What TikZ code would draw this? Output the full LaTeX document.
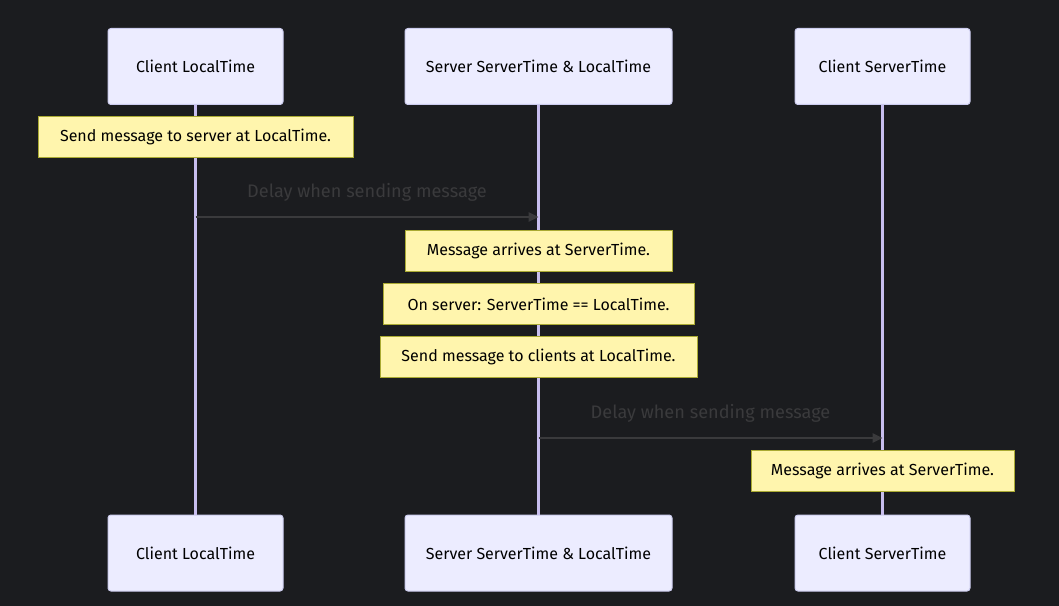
\documentclass[tikz,border=0pt]{standalone}
\usepackage{fontspec}
\setmainfont{Fira Sans}
\usetikzlibrary{arrows.meta}
\definecolor{bgc}{RGB}{27,28,31}
\definecolor{actfill}{RGB}{236,236,255}
\definecolor{actline}{RGB}{204,204,238}
\definecolor{lifec}{RGB}{200,190,238}
\definecolor{notefill}{RGB}{255,245,173}
\definecolor{noteline}{RGB}{170,170,51}
\definecolor{msgc}{RGB}{58,58,60}
\tikzset{
  actor/.style={rectangle,rounded corners=2.2pt,draw=actline,fill=actfill,line width=.75pt,
    minimum height=76*0.75pt,inner sep=0pt,font=\fontsize{12}{14}\selectfont,text=black},
  note/.style={rectangle,draw=noteline,fill=notefill,line width=.75pt,
    minimum height=41*0.75pt,inner sep=0pt,font=\fontsize{12}{14}\selectfont,text=black},
  life/.style={draw=lifec,line width=1.7pt},
  msg/.style={-{Triangle[length=7.5pt,width=7pt]},draw=msgc,line width=1.4pt},
  mlb/.style={font=\fontsize{13.6}{15}\selectfont,text=msgc,anchor=south,inner sep=0pt},
}
\begin{document}
\begin{tikzpicture}[x=0.75pt,y=-0.75pt]
\fill[bgc] (0,0) rectangle (1059,606);
\useasboundingbox (0,0) rectangle (1059,606);
% participants, top and bottom
\node[actor,minimum width=175*0.75pt] (clt) at (195.5,66.5) {Client LocalTime};
\node[actor,minimum width=267*0.75pt] (srv) at (538.5,66.5) {Server ServerTime \& LocalTime};
\node[actor,minimum width=175*0.75pt] (cst) at (882.5,66.5) {Client ServerTime};
\node[actor,minimum width=175*0.75pt] (cltb) at (195.5,553) {Client LocalTime};
\node[actor,minimum width=267*0.75pt] (srvb) at (538.5,553) {Server ServerTime \& LocalTime};
\node[actor,minimum width=175*0.75pt] (cstb) at (882.5,553) {Client ServerTime};
% lifelines
\draw[life] (clt.south) -- (cltb.north);
\draw[life] (srv.south) -- (srvb.north);
\draw[life] (cst.south) -- (cstb.north);
% first hop: client to server
\node[note,minimum width=315*0.75pt] (n1) at (195.5,137) {Send message to server at LocalTime.};
\coordinate (m1a) at (195.5,217);
\coordinate (m1b) at (538.5,217);
\draw[msg] (m1a) -- (m1b);
\node[mlb] (l1) at (367,202) {Delay when sending message};
\node[note,minimum width=267*0.75pt] (n2) at (538.5,251) {Message arrives at ServerTime.};
\node[note,minimum width=311*0.75pt] (n3) at (538.5,304) {On server: ServerTime == LocalTime.};
\node[note,minimum width=317*0.75pt] (n4) at (538.5,357) {Send message to clients at LocalTime.};
% second hop: server to clients
\coordinate (m2a) at (538.5,438);
\coordinate (m2b) at (882.5,438);
\draw[msg] (m2a) -- (m2b);
\node[mlb] (l2) at (710.5,423) {Delay when sending message};
\node[note,minimum width=263*0.75pt] (n5) at (882.5,471) {Message arrives at ServerTime.};
\end{tikzpicture}
\end{document}
